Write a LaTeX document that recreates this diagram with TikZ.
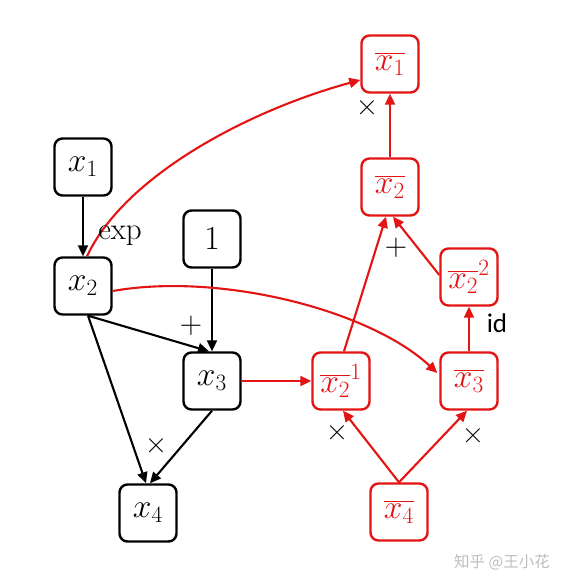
\documentclass[tikz,border=0pt]{standalone}
\usepackage{fontspec}
\usepackage{graphicx}
\usetikzlibrary{arrows.meta,calc}
\newfontfamily\lblfont{Carlito}
\newfontfamily\cjkfont{Noto Sans CJK SC}
\definecolor{bred}{RGB}{228,20,20}
\definecolor{wmgrey}{RGB}{190,190,190}
\newcommand{\bxmath}[1]{\scalebox{1.35}{\fontsize{24}{28}\selectfont$#1$}}
\tikzset{
  box/.style={draw, rounded corners=8pt, line width=2.4pt, minimum width=57pt, minimum height=57pt, inner sep=0pt},
  fbox/.style={box, black},
  bbox/.style={box, draw=bred, text=bred},
  farr/.style={line width=2.1pt, black, -{Triangle[length=11pt,width=10pt]}},
  barr/.style={line width=2.1pt, bred, -{Triangle[length=11pt,width=10pt]}},
  oplbl/.style={font=\lblfont\fontsize{27}{30}\selectfont, black, inner sep=0pt},
  seriflbl/.style={font=\fontsize{31}{34}\selectfont, black, inner sep=0pt}
}
\begin{document}
\begin{tikzpicture}[x=1pt,y=-1pt]
\useasboundingbox[fill=white] (0,0) rectangle (566,587);
% forward graph
\node[fbox] (x1) at (83,167) {\bxmath{x_1}};
\node[fbox] (x2) at (83,286) {\bxmath{x_2}};
\node[fbox] (one) at (212,239) {\bxmath{1}};
\node[fbox] (x3) at (212,381) {\bxmath{x_3}};
\node[fbox] (x4) at (148,513) {\bxmath{x_4}};
% backward graph
\node[bbox] (b1) at (390,64) {\bxmath{\overline{x_1}}};
\node[bbox] (b2) at (390,187) {\bxmath{\overline{x_2}}};
\node[bbox] (b22) at (469,277) {\bxmath{\overline{x_2}^{2}}};
\node[bbox] (b21) at (341,381) {\bxmath{\overline{x_2}^{1}}};
\node[bbox] (b3) at (469,381) {\bxmath{\overline{x_3}}};
\node[bbox] (b4) at (399,512) {\bxmath{\overline{x_4}}};
% forward edges
\draw[farr] (x1) -- (x2);
\draw[farr] (one) -- (x3);
\draw[farr] ($(x2.south)+(5,0)$) -- ($(x3.north)+(-3,0)$);
\draw[farr] ($(x2.south)+(5,0)$) -- ($(x4.north)+(-2,0)$);
\draw[farr] (x3.south) -- ($(x4.north)+(2,0)$);
% backward edges
\draw[barr] (x3.east) -- (b21.west);
\draw[barr] ($(x2.north)+(4,0)$) .. controls (125,175) and (250,110) .. ($(b1.west)+(0,16)$);
\draw[barr] ($(x2.east)+(0,5)$) .. controls (220,272) and (370,310) .. ($(b3.west)+(-2,-8)$);
\draw[barr] (b3) -- (b22);
\draw[barr] ($(b22.west)+(0,-2)$) -- ($(b2.south)+(3,0)$);
\draw[barr] ($(b21.north)+(3,0)$) -- ($(b2.south)+(-4,0)$);
\draw[barr] (b2) -- (b1);
\draw[barr] (b4.north) -- ($(b21.south)+(2,0)$);
\draw[barr] (b4.north) -- ($(b3.south)+(-2,0)$);
% labels
\node[seriflbl] (lexp) at (120,236) {exp};
\node[seriflbl] (lplus1) at (191,326) {+};
\node[seriflbl] (ltimes1) at (156,446) {×};
\node[seriflbl] (ltimes2) at (367,108) {×};
\node[seriflbl] (lplus2) at (396,248) {+};
\node[oplbl] (lid) at (497,323) {id};
\node[seriflbl] (ltimes3) at (337,433) {×};
\node[seriflbl] (ltimes4) at (473,436) {×};
\node[font=\cjkfont\fontsize{15.5}{17}\selectfont, text=wmgrey, inner sep=0pt] (wm) at (502,562) {知乎 @王小花};
\end{tikzpicture}
\end{document}
